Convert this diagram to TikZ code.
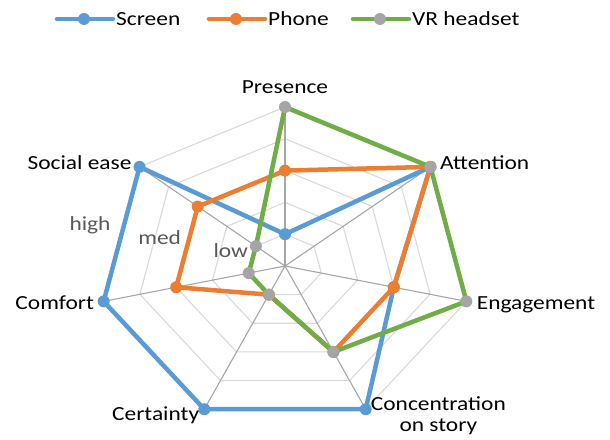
\documentclass[tikz,border=0pt]{standalone}
\usepackage{fontspec}
\setmainfont{Carlito}[FakeStretch=1.17]
\usetikzlibrary{positioning}

\definecolor{screenblue}{RGB}{91,155,213}
\definecolor{phoneorange}{RGB}{237,125,49}
\definecolor{vrgreen}{RGB}{112,173,71}
\definecolor{vrgray}{RGB}{165,165,165}
\definecolor{ringgray}{RGB}{217,217,217}
\definecolor{spokegray}{RGB}{166,166,166}
\definecolor{levelgray}{RGB}{89,89,89}

\tikzset{
  ring/.style={draw=ringgray, line width=1.1pt},
  spoke/.style={draw=spokegray, line width=1.1pt},
  series/.style={line width=4.5pt, line join=round},
  dot/.style={circle, fill=#1, inner sep=0pt, minimum size=12pt},
  lbl/.style={font=\fontsize{20}{22}\selectfont, inner sep=0pt},
  lvl/.style={lbl, text=levelgray},
}

\begin{document}
\begin{tikzpicture}[x=1pt, y=1pt]
\useasboundingbox (-285,-173) rectangle (325,266);
\def\ringgap{31.8}

\begin{scope}[xscale=1.17]
  % web of rings
  \foreach \l in {1,...,5}
    \draw[ring] (90:{\l*\ringgap}) \foreach \k in {1,...,6} {-- ({90-\k*360/7}:{\l*\ringgap})} -- cycle;
  % spokes
  \foreach \k in {0,...,6}
    \draw[spoke] (0,0) -- ({90-\k*360/7}:{5*\ringgap}) coordinate (ax\k);
  % scores on the seven axes
  \foreach \s/\vals in {scr/{1,5,3,5,5,5,5}, pho/{3,5,3,3,1,3,3}, vr/{5,5,5,3,1,1,1}}
    \foreach \v [count=\k from 0] in \vals
      \coordinate (\s\k) at ({90-\k*360/7}:{\v*\ringgap});
\end{scope}

% series polygons with markers
\foreach \s/\col/\mk in {scr/screenblue/screenblue, pho/phoneorange/phoneorange, vr/vrgreen/vrgray} {
  \draw[series, \col] (\s0) -- (\s1) -- (\s2) -- (\s3) -- (\s4) -- (\s5) -- (\s6) -- cycle;
  \foreach \k in {0,...,6} \node[dot=\mk] at (\s\k) {};
}

% axis labels
\node[lbl, above=13.5pt of ax0] (presence) {Presence};
\node[lbl, anchor=base west, xshift=9.6pt, yshift=-2.4pt] (attention) at (ax1) {Attention};
\node[lbl, anchor=base west, xshift=10.3pt, yshift=-7.9pt] (engagement) at (ax2) {Engagement};
\node[lbl, anchor=base west, xshift=5pt, yshift=-0.8pt] (conc) at (ax3) {Concentration};
\node[lbl, anchor=base] (concb) at ([yshift=-21.7pt]conc.base) {on story};
\node[lbl, anchor=base east, xshift=-5pt, yshift=-10.8pt] (certainty) at (ax4) {Certainty};
\node[lbl, anchor=base east, xshift=-9.6pt, yshift=-7.9pt] (comfort) at (ax5) {Comfort};
\node[lbl, anchor=base east, xshift=-7.9pt, yshift=-2.4pt] (social) at (ax6) {Social ease};

% level hints
\node[lvl, anchor=base] (high) at (-195,35.3) {high};
\node[lvl, anchor=base] (med) at (-125.3,21) {med};
\node[lvl, anchor=base] (low) at (-54.3,8.7) {low};

% legend
\foreach \nm/\col/\mk/\x/\txt in {scr/screenblue/screenblue/-228/Screen, pho/phoneorange/phoneorange/-76/Phone, vr/vrgreen/vrgray/68/VR headset} {
  \coordinate (\nm L) at (\x,247);
  \coordinate (\nm R) at (\x+56,247);
  \draw[series, line cap=round, \col] (\nm L) -- (\nm R);
  \node[dot=\mk] (\nm M) at (\x+27,247) {};
  \node[lbl, anchor=base west] (\nm T) at (\x+59,240.3) {\txt};
}
\end{tikzpicture}
\end{document}
